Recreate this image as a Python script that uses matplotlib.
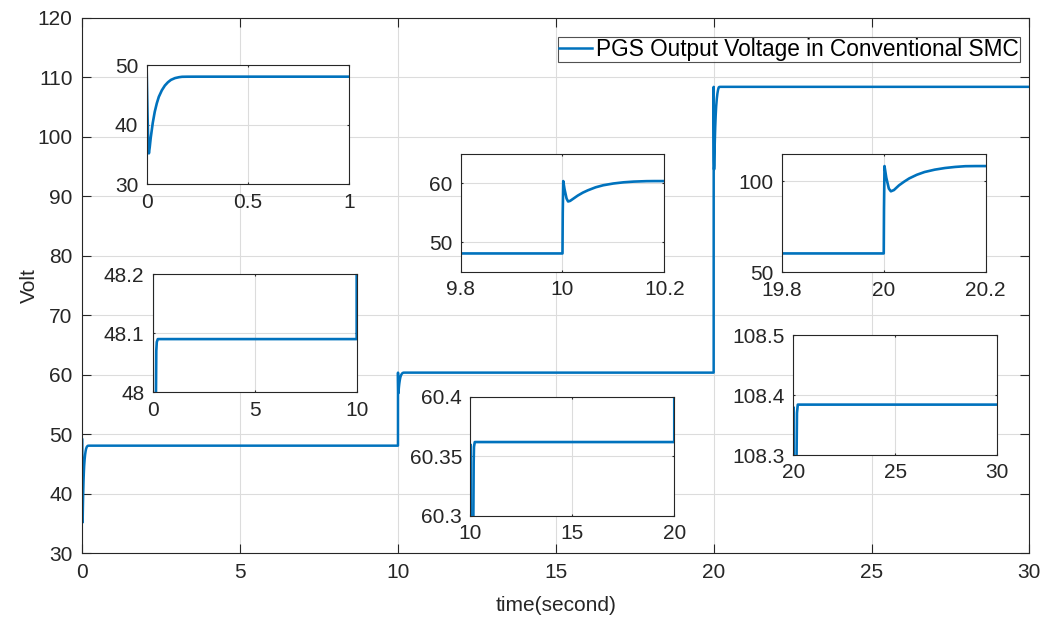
import matplotlib
matplotlib.use("Agg")
import matplotlib.pyplot as plt

plt.rcParams['font.family'] = ['Liberation Sans', 'DejaVu Sans']

# Output voltage of the PGS under conventional SMC (breakpoints of the trace)
t_start = [0.0, 0.004, 0.008, 0.011, 0.015, 0.02, 0.03, 0.04, 0.05, 0.06, 0.075,
           0.09, 0.105, 0.12, 0.14, 0.16, 0.175, 0.2, 0.25]
v_start = [49.1, 42.0, 36.5, 35.2, 36.2, 37.8, 40.3, 42.2, 43.6, 44.7, 45.8,
           46.6, 47.15, 47.55, 47.85, 48.0, 48.07, 48.085, 48.09]

t_step1 = [10.0, 10.0005, 10.0015, 10.004, 10.008, 10.011, 10.015, 10.02, 10.03,
           10.04, 10.05, 10.065, 10.08, 10.1, 10.12, 10.14, 10.15, 10.165, 10.18, 10.22]
v_step1 = [48.09, 55.0, 60.36, 59.0, 57.4, 56.9, 57.0, 57.3, 57.9,
           58.4, 58.8, 59.3, 59.65, 59.95, 60.15, 60.27, 60.3, 60.345, 60.358, 60.362]

t_step2 = [20.0, 20.0005, 20.0015, 20.005, 20.01, 20.014, 20.02, 20.03, 20.04, 20.05,
           20.065, 20.08, 20.1, 20.12, 20.14, 20.16, 20.18, 20.22, 30.0]
v_step2 = [60.362, 85.0, 108.38, 102.0, 96.0, 94.5, 95.2, 97.8, 99.8, 101.6,
           103.6, 105.1, 106.4, 107.3, 107.9, 108.3, 108.37, 108.384, 108.384]

time = t_start + t_step1 + t_step2
volt = v_start + v_step1 + v_step2

series_label = 'PGS Output Voltage in Conventional SMC'

main_xticks = [0, 5, 10, 15, 20, 25, 30]
main_yticks = [30, 40, 50, 60, 70, 80, 90, 100, 110, 120]

# zoom windows: (position, xlim, ylim, xticks, xticklabels, yticks, yticklabels)
zoom_views = [
    ([0.1385, 0.7023, 0.1910, 0.1922], (0, 1), (30, 50),
     [0, 0.5, 1], ['0', '0.5', '1'], [30, 40, 50], ['30', '40', '50']),
    ([0.1442, 0.3662, 0.1926, 0.1911], (0, 10), (48, 48.2),
     [0, 5, 10], ['0', '5', '10'], [48, 48.1, 48.2], ['48', '48.1', '48.2']),
    ([0.4350, 0.5611, 0.1923, 0.1906], (9.8, 10.2), (45, 65),
     [9.8, 10, 10.2], ['9.8', '10', '10.2'], [50, 60], ['50', '60']),
    ([0.7382, 0.5601, 0.1926, 0.1911], (19.8, 20.2), (50, 115),
     [19.8, 20, 20.2], ['19.8', '20', '20.2'], [50, 100], ['50', '100']),
    ([0.4441, 0.1664, 0.1926, 0.1927], (10, 20), (60.3, 60.4),
     [10, 15, 20], ['10', '15', '20'], [60.3, 60.35, 60.4], ['60.3', '60.35', '60.4']),
    ([0.7491, 0.2649, 0.1926, 0.1939], (20, 30), (108.3, 108.5),
     [20, 25, 30], ['20', '25', '30'], [108.3, 108.4, 108.5], ['108.3', '108.4', '108.5']),
]

LINE = '#0072BD'
INK = '#262626'
GRID = '#dcdcdc'
FS = 15

fig = plt.figure(figsize=(10.59, 6.19), dpi=100)
ax = fig.add_axes([0.0777, 0.1061, 0.8943, 0.8653])
ax.plot(time, volt, color=LINE, lw=1.8, label=series_label)
ax.set_xlim(0, 30)
ax.set_ylim(30, 120)
ax.set_xticks(main_xticks)
ax.set_yticks(main_yticks)
ax.grid(True, color=GRID, lw=0.8)
ax.set_axisbelow(True)
ax.tick_params(direction='in', top=True, right=True, length=6.8, width=0.8,
               colors=INK, labelsize=FS, pad=7)
for s in ax.spines.values():
    s.set_color(INK)
    s.set_linewidth(0.8)
ax.set_xlabel('time(second)', fontsize=FS, color=INK, labelpad=10)
ax.set_ylabel('Volt', fontsize=FS, color=INK, labelpad=-1)
leg = ax.legend(loc='upper right', bbox_to_anchor=(0.9632, 0.9407),
                bbox_transform=fig.transFigure, fontsize=16.3, frameon=True,
                fancybox=False, handlelength=1.45, handletextpad=0.2,
                borderpad=0.05, borderaxespad=0.0)
leg.get_frame().set_edgecolor(INK)
leg.get_frame().set_linewidth(0.8)

for pos, xl, yl, xt, xtl, yt, ytl in zoom_views:
    ins = fig.add_axes(pos)
    ins.plot(time, volt, color=LINE, lw=1.9)
    ins.set_xlim(*xl)
    ins.set_ylim(*yl)
    ins.set_xticks(xt)
    ins.set_xticklabels(xtl)
    ins.set_yticks(yt)
    ins.set_yticklabels(ytl)
    ins.grid(True, color=GRID, lw=0.8)
    ins.set_axisbelow(True)
    ins.tick_params(direction='in', top=True, right=True, length=1.6, width=0.8,
                    colors=INK, labelsize=FS, pad=6)
    for s in ins.spines.values():
        s.set_color(INK)
        s.set_linewidth(0.8)

fig.savefig('out.png', dpi=100)
